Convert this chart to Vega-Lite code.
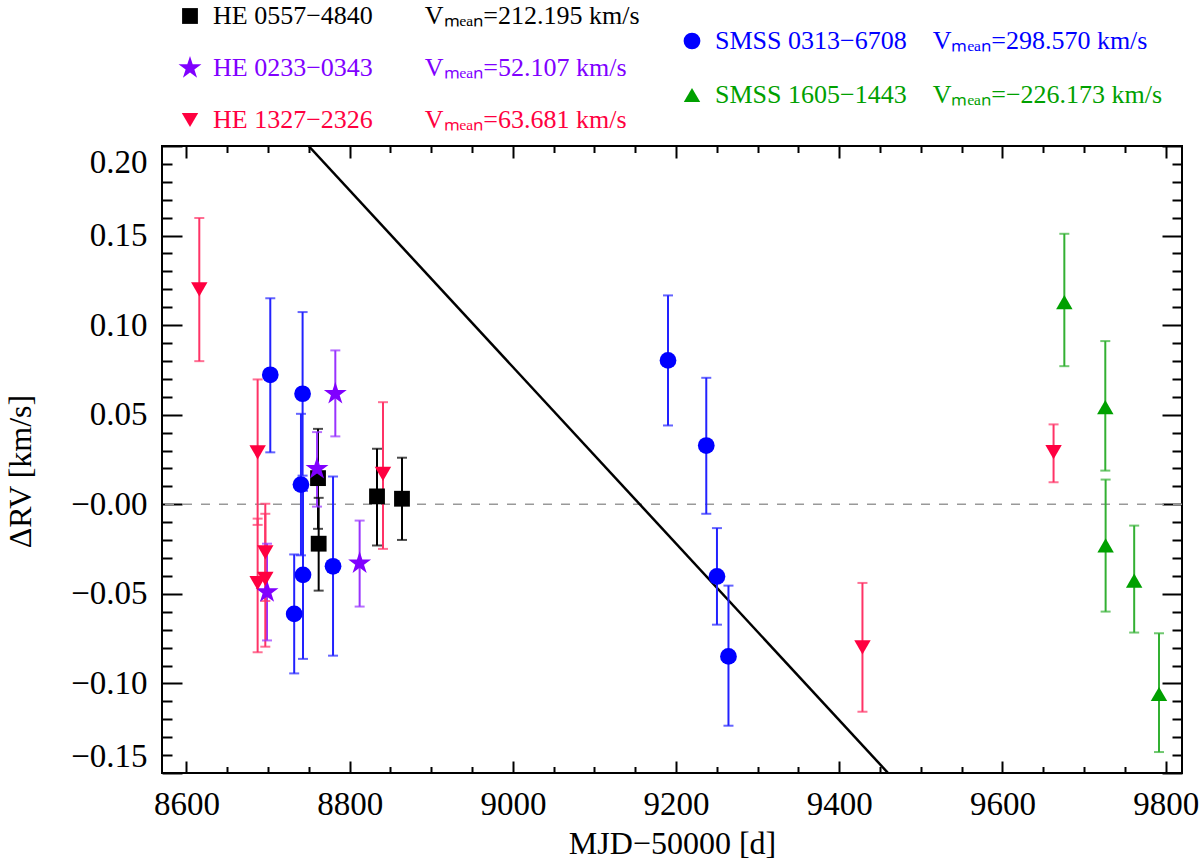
{
  "$schema": "https://vega.github.io/schema/vega-lite/v6.json",
  "width": 1020,
  "height": 627,
  "autosize": {"type": "none"},
  "padding": {"left": 162, "top": 146, "right": 18, "bottom": 87},
  "background": "white",
  "datasets": {
    "rv": [
      {"star": "HE 0557−4840", "t": 8761.2, "v": 0.0146, "lo": -0.0137, "hi": 0.0421},
      {"star": "HE 0557−4840", "t": 8762.0, "v": -0.022, "lo": -0.0482, "hi": 0.0036},
      {"star": "HE 0557−4840", "t": 8833.5, "v": 0.0044, "lo": -0.023, "hi": 0.031},
      {"star": "HE 0557−4840", "t": 8864.1, "v": 0.0031, "lo": -0.0199, "hi": 0.026},
      {"star": "HE 0233−0343", "t": 8698.7, "v": -0.049, "lo": -0.076, "hi": -0.022},
      {"star": "HE 0233−0343", "t": 8760.0, "v": 0.0198, "lo": -0.0013, "hi": 0.0403},
      {"star": "HE 0233−0343", "t": 8782.4, "v": 0.0617, "lo": 0.0379, "hi": 0.0859},
      {"star": "HE 0233−0343", "t": 8812.2, "v": -0.0329, "lo": -0.0571, "hi": -0.0091},
      {"star": "HE 1327−2326", "t": 8615.7, "v": 0.12, "lo": 0.0799, "hi": 0.1598},
      {"star": "HE 1327−2326", "t": 8687.2, "v": 0.029, "lo": -0.0115, "hi": 0.0697},
      {"star": "HE 1327−2326", "t": 8687.2, "v": -0.044, "lo": -0.0826, "hi": -0.008},
      {"star": "HE 1327−2326", "t": 8696.6, "v": -0.0268, "lo": -0.054, "hi": 0.0003},
      {"star": "HE 1327−2326", "t": 8696.6, "v": -0.0416, "lo": -0.0795, "hi": -0.0053},
      {"star": "HE 1327−2326", "t": 8840.8, "v": 0.017, "lo": -0.0249, "hi": 0.057},
      {"star": "HE 1327−2326", "t": 9428.4, "v": -0.0799, "lo": -0.1158, "hi": -0.0439},
      {"star": "HE 1327−2326", "t": 9662.6, "v": 0.0291, "lo": 0.0123, "hi": 0.0446},
      {"star": "SMSS 0313−6708", "t": 8702.7, "v": 0.0723, "lo": 0.029, "hi": 0.115},
      {"star": "SMSS 0313−6708", "t": 8742.3, "v": 0.0617, "lo": 0.016, "hi": 0.1073},
      {"star": "SMSS 0313−6708", "t": 8740.3, "v": 0.011, "lo": -0.0285, "hi": 0.0505},
      {"star": "SMSS 0313−6708", "t": 8742.8, "v": -0.0394, "lo": -0.0863, "hi": 0.0075},
      {"star": "SMSS 0313−6708", "t": 8732.0, "v": -0.0612, "lo": -0.0944, "hi": -0.028},
      {"star": "SMSS 0313−6708", "t": 8779.6, "v": -0.0346, "lo": -0.0845, "hi": 0.0155},
      {"star": "SMSS 0313−6708", "t": 9190.1, "v": 0.0803, "lo": 0.044, "hi": 0.1166},
      {"star": "SMSS 0313−6708", "t": 9237.0, "v": 0.0328, "lo": -0.0053, "hi": 0.0706},
      {"star": "SMSS 0313−6708", "t": 9250.1, "v": -0.0403, "lo": -0.0672, "hi": -0.0133},
      {"star": "SMSS 0313−6708", "t": 9264.2, "v": -0.0849, "lo": -0.1236, "hi": -0.0454},
      {"star": "SMSS 1605−1443", "t": 9675.8, "v": 0.1129, "lo": 0.0771, "hi": 0.151},
      {"star": "SMSS 1605−1443", "t": 9726.0, "v": 0.0542, "lo": 0.0188, "hi": 0.0911},
      {"star": "SMSS 1605−1443", "t": 9726.4, "v": -0.023, "lo": -0.0599, "hi": 0.0138},
      {"star": "SMSS 1605−1443", "t": 9761.4, "v": -0.0426, "lo": -0.0716, "hi": -0.0119},
      {"star": "SMSS 1605−1443", "t": 9791.8, "v": -0.1059, "lo": -0.1383, "hi": -0.072}
    ],
    "fit": [
      {"t": 8749.7, "v": 0.2},
      {"t": 9459.8, "v": -0.15}
    ],
    "zero": [
      {"v": 0}
    ]
  },
  "layer": [
    {
      "data": {"name": "zero"},
      "mark": {"type": "rule", "color": "#999999", "strokeWidth": 1.5, "strokeDash": [9, 9]},
      "encoding": {
        "y": {"field": "v", "type": "quantitative", "scale": {"domain": [-0.15, 0.2], "nice": false, "zero": false}, "axis": null}
      }
    },
    {
      "data": {"name": "fit"},
      "mark": {"type": "line", "color": "black", "strokeWidth": 2.5, "clip": true},
      "encoding": {
        "x": {
          "field": "t", "type": "quantitative",
          "scale": {"domain": [8570, 9820], "nice": false, "zero": false},
          "axis": {
            "orient": "bottom", "title": "MJD−50000 [d]",
            "values": [8600, 8800, 9000, 9200, 9400, 9600, 9800],
            "format": "d", "tickSize": -12, "labelPadding": 27,
            "titleX": 510, "titleY": 70, "titleBaseline": "middle"
          }
        },
        "y": {
          "field": "v", "type": "quantitative",
          "scale": {"domain": [-0.15, 0.2], "nice": false, "zero": false},
          "axis": {
            "orient": "left", "title": "ΔRV [km/s]",
            "values": [-0.15, -0.1, -0.05, 0, 0.05, 0.1, 0.15, 0.2],
            "labelExpr": "datum.value == 0 ? '−0.00' : replace(format(datum.value, '.2f'), '-', '−')",
            "labelFlush": true, "tickSize": -20, "labelPadding": 35,
            "titleX": -142, "titleY": 325, "titleAngle": 270, "titleBaseline": "middle", "titleAlign": "center"
          }
        }
      }
    },
    {
      "data": {"name": "rv"},
      "mark": {"type": "rule", "strokeWidth": 2},
      "encoding": {
        "x": {"field": "t", "type": "quantitative", "axis": {"orient": "top", "labels": false, "title": null, "values": [8600, 8800, 9000, 9200, 9400, 9600, 9800], "tickSize": -12}},
        "y": {"field": "lo", "type": "quantitative", "axis": {"orient": "right", "labels": false, "title": null, "values": [-0.15, -0.1, -0.05, 0, 0.05, 0.1, 0.15, 0.2], "tickSize": -20}},
        "y2": {"field": "hi"},
        "color": {
          "field": "star", "type": "nominal", "legend": null,
          "scale": {
            "domain": ["HE 0557−4840", "HE 0233−0343", "HE 1327−2326", "SMSS 0313−6708", "SMSS 1605−1443"],
            "range": ["#000000", "#9933ff", "#ff3366", "#2222ff", "#33b033"]
          }
        }
      }
    },
    {
      "data": {"name": "rv"},
      "mark": {"type": "tick", "orient": "horizontal", "size": 10, "thickness": 2},
      "encoding": {
        "x": {"field": "t", "type": "quantitative", "axis": {"orient": "bottom", "labels": false, "title": null, "values": [8650, 8700, 8750, 8850, 8900, 8950, 9050, 9100, 9150, 9250, 9300, 9350, 9450, 9500, 9550, 9650, 9700, 9750], "tickSize": -6.5}},
        "y": {"field": "lo", "type": "quantitative", "axis": {"orient": "left", "labels": false, "title": null, "values": [-0.14, -0.13, -0.12, -0.11, -0.09, -0.08, -0.07, -0.06, -0.04, -0.03, -0.02, -0.01, 0.01, 0.02, 0.03, 0.04, 0.06, 0.07, 0.08, 0.09, 0.11, 0.12, 0.13, 0.14, 0.16, 0.17, 0.18, 0.19], "tickSize": -10}},
        "color": {
          "field": "star", "type": "nominal", "legend": null,
          "scale": {
            "domain": ["HE 0557−4840", "HE 0233−0343", "HE 1327−2326", "SMSS 0313−6708", "SMSS 1605−1443"],
            "range": ["#000000", "#9933ff", "#ff3366", "#2222ff", "#33b033"]
          }
        }
      }
    },
    {
      "data": {"name": "rv"},
      "mark": {"type": "tick", "orient": "horizontal", "size": 10, "thickness": 2},
      "encoding": {
        "x": {"field": "t", "type": "quantitative", "axis": {"orient": "top", "labels": false, "title": null, "values": [8650, 8700, 8750, 8850, 8900, 8950, 9050, 9100, 9150, 9250, 9300, 9350, 9450, 9500, 9550, 9650, 9700, 9750], "tickSize": -6.5}},
        "y": {"field": "hi", "type": "quantitative", "axis": {"orient": "right", "labels": false, "title": null, "values": [-0.14, -0.13, -0.12, -0.11, -0.09, -0.08, -0.07, -0.06, -0.04, -0.03, -0.02, -0.01, 0.01, 0.02, 0.03, 0.04, 0.06, 0.07, 0.08, 0.09, 0.11, 0.12, 0.13, 0.14, 0.16, 0.17, 0.18, 0.19], "tickSize": -10}},
        "color": {
          "field": "star", "type": "nominal", "legend": null,
          "scale": {
            "domain": ["HE 0557−4840", "HE 0233−0343", "HE 1327−2326", "SMSS 0313−6708", "SMSS 1605−1443"],
            "range": ["#000000", "#9933ff", "#ff3366", "#2222ff", "#33b033"]
          }
        }
      }
    },
    {
      "data": {"name": "rv"},
      "transform": [{"filter": {"field": "star", "oneOf": ["HE 0557−4840", "HE 0233−0343", "HE 1327−2326"]}}],
      "mark": {"type": "point", "filled": true, "opacity": 1},
      "encoding": {
        "x": {"field": "t", "type": "quantitative", "axis": null},
        "y": {"field": "v", "type": "quantitative", "axis": null},
        "color": {
          "field": "star", "type": "nominal",
          "scale": {"domain": ["HE 0557−4840", "HE 0233−0343", "HE 1327−2326"], "range": ["#000000", "#8000ff", "#ff0040"]},
          "legend": {
            "orient": "none", "legendX": 15, "legendY": -143, "title": null, "padding": 0,
            "labelFont": "Liberation Serif", "labelFontSize": 26, "labelLimit": 0,
            "symbolSize": 280, "symbolStrokeWidth": 0, "rowPadding": 26, "labelOffset": 10,
            "labelExpr": "datum.label + '\u2003\u2003Vₘₑₐₙ=' + (datum.label == 'HE 0557−4840' ? '212.195' : datum.label == 'HE 0233−0343' ? '52.107' : '63.681') + ' km/s'",
            "labelColor": {"expr": "datum.label == 'HE 0233−0343' ? '#8000ff' : datum.label == 'HE 1327−2326' ? '#ff0040' : '#000000'"}
          }
        },
        "shape": {
          "field": "star", "type": "nominal",
          "scale": {"domain": ["HE 0557−4840", "HE 0233−0343", "HE 1327−2326"], "range": ["square", "M0,-1L0.2245,-0.309L0.9511,-0.309L0.3633,0.118L0.5878,0.809L0,0.382L-0.5878,0.809L-0.3633,0.118L-0.9511,-0.309L-0.2245,-0.309Z", "triangle-down"]}
        },
        "size": {
          "field": "star", "type": "nominal", "legend": null,
          "scale": {"type": "ordinal", "domain": ["HE 0557−4840", "HE 0233−0343", "HE 1327−2326"], "range": [250, 580, 270]}
        }
      }
    },
    {
      "data": {"name": "rv"},
      "transform": [{"filter": {"field": "star", "oneOf": ["SMSS 0313−6708", "SMSS 1605−1443"]}}],
      "mark": {"type": "point", "filled": true, "opacity": 1},
      "encoding": {
        "x": {"field": "t", "type": "quantitative", "axis": null},
        "y": {"field": "v", "type": "quantitative", "axis": null},
        "color": {
          "field": "star", "type": "nominal",
          "scale": {"domain": ["SMSS 0313−6708", "SMSS 1605−1443"], "range": ["#0000ff", "#00a000"]},
          "legend": {
            "orient": "none", "legendX": 517, "legendY": -118, "title": null, "padding": 0,
            "labelFont": "Liberation Serif", "labelFontSize": 26, "labelLimit": 0,
            "symbolSize": 280, "symbolStrokeWidth": 0, "rowPadding": 28, "labelOffset": 10,
            "labelExpr": "datum.label + '\u2003Vₘₑₐₙ=' + (datum.label == 'SMSS 0313−6708' ? '298.570' : '−226.173') + ' km/s'",
            "labelColor": {"expr": "datum.label == 'SMSS 1605−1443' ? '#00a000' : '#0000ff'"}
          }
        },
        "shape": {
          "field": "star", "type": "nominal",
          "scale": {"domain": ["SMSS 0313−6708", "SMSS 1605−1443"], "range": ["circle", "triangle-up"]}
        },
        "size": {
          "field": "star", "type": "nominal", "legend": null,
          "scale": {"type": "ordinal", "domain": ["SMSS 0313−6708", "SMSS 1605−1443"], "range": [280, 270]}
        }
      }
    }
  ],
  "resolve": {
    "scale": {"color": "independent", "shape": "independent", "size": "independent"},
    "axis": {"x": "independent", "y": "independent"}
  },
  "config": {
    "font": "Liberation Serif",
    "view": {"stroke": "black", "strokeWidth": 2},
    "axis": {
      "domain": false,
      "grid": false,
      "tickColor": "black",
      "tickWidth": 2,
      "labelFont": "Liberation Serif",
      "labelFontSize": 33,
      "labelColor": "black",
      "titleFont": "Liberation Serif",
      "titleFontSize": 32,
      "titleFontWeight": "normal",
      "titleColor": "black"
    }
  }
}
